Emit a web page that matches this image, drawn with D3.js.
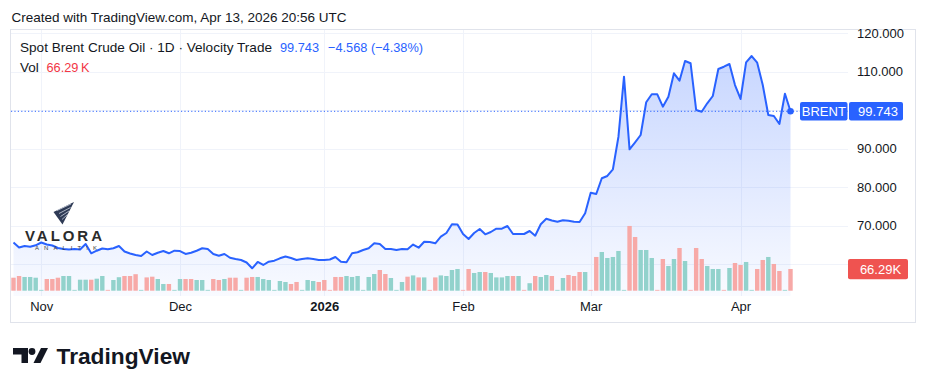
<!DOCTYPE html>
<html><head><meta charset="utf-8">
<script src="https://cdn.jsdelivr.net/npm/d3@7"></script>
<style>
html,body{margin:0;padding:0;background:#fff;}
svg{display:block;font-family:"Liberation Sans",Arial,sans-serif;}
</style></head><body>
<svg id="c" width="926" height="391"></svg>
<script>
// ---- data ----
const startDate = "2025-10-27", endDate = "2026-04-13";
const missingDays = ["2025-12-25","2026-01-01","2026-02-08","2026-04-03"];
const closes = [
65.66,64.36,64.75,64.57,64.94,65.66,65.14,64.88,64.23,63.95,
63.85,63.95,63.85,65.27,62.86,63.53,64.10,63.90,64.16,64.75,
63.32,62.81,62.42,62.16,63.32,62.42,63.01,63.45,62.86,63.53,
63.45,62.68,63.01,63.53,64.16,63.97,62.68,62.23,62.68,61.71,
61.38,61.12,60.47,58.96,60.60,59.82,60.68,60.94,61.56,62.03,
61.64,61.12,61.38,61.56,61.38,61.12,61.12,61.25,61.90,60.68,
60.52,62.86,63.12,63.71,64.16,65.45,65.27,63.97,63.97,63.71,
63.97,63.90,65.14,64.31,65.87,65.79,65.45,67.17,68.13,70.39,
70.34,67.87,66.57,68.13,69.17,67.79,68.39,69.25,69.25,69.95,
67.87,67.87,67.87,68.65,67.43,70.39,71.84,71.38,71.06,71.43,
71.32,71.06,70.99,73.25,78.60,78.26,82.34,82.94,84.68,93.14,
108.73,89.87,91.69,93.58,102.08,104.16,104.16,100.94,103.53,109.61,
107.69,112.81,112.21,100.08,99.64,101.82,103.71,110.73,111.32,112.03,
106.57,102.94,112.47,114.10,112.36,106.57,98.78,98.52,96.44,104.31,
99.743];
const volumesK = [
39.7,44.9,41.9,41.9,39.7,2.5, 35.7,35.7,39.7,44.9,44.9,2.5,
33.6,33.6,33.6,36.7,44.9,2.5, 32.7,41.2,44.9,44.9,50.4,2.5,
40.6,42.8,35.7,20.5,20.5,2.5, 35.7,35.7,35.7,32.7,32.7,2.5,
35.7,32.7,35.7,39.7,39.7,2.5, 39.7,41.9,41.9,35.7,32.7,2.5,
29.6,26.6,20.5,26.6,2.5, 32.7,29.6,26.6,32.7,2.5,
41.9,41.9,44.9,41.9,44.9,2.5, 41.9,51.0,63.2,51.0,38.8,2.5,
26.6,42.8,46.7,40.6,40.6,2.5, 40.6,46.7,44.9,63.2,66.3,2.5,
66.3,54.1,57.1,57.1,54.1, 40.6,40.6,44.9,44.9,44.9, 2.5,
22.9,44.9,41.9,48.0,44.9, 2.5, 38.8,48.0,44.9,57.1,57.1, 2.5,
103.0,118.2,99.9,103.0,121.3, 2.5, 197.7,164.0,124.3,124.3,99.9, 2.5,
96.8,75.5,96.8,130.4,90.7, 2.5, 130.4,96.8,75.5,66.3,66.3, 2.5,
69.3,84.6,78.5,87.7, 2.5, 66.3,93.8,103.0,81.6,60.2, 2.5, 66.29];
const volUp = [
0,0,1,1,1,1, 0,0,0,1,1,1, 1,1,0,1,1,0, 1,1,0,0,0,1,
0,0,1,1,0,1, 1,0,0,1,1,1, 0,0,1,0,0,1, 0,0,1,1,1,1,
1,1,0,0,1, 1,1,0,0,0, 0,0,1,1,1,1, 1,1,0,0,1,1,
1,0,1,0,1,0, 0,1,1,1,1,0, 0,1,1,0,1, 1,1,1,0,1, 0,
1,0,1,1,0, 1, 1,0,0,0,1, 0, 0,1,1,1,1, 1, 0,0,1,1,1, 0,
0,1,1,0,1, 0, 0,0,1,1,1, 0, 1,0,0,1, 1, 0,0,1,0,0, 1, 0];
const tickDates = ["2025-11-02","2025-12-01","2026-01-02","2026-02-01","2026-03-01","2026-04-01"];
const tickLabels = ["Nov","Dec","2026","Feb","Mar","Apr"];
const gridPrices = [60,70,80,90,100,110,120];
const priceTickLabels = [70,80,90,110,120];   // 60 and 100 sit behind the label boxes
const symbolName = "BRENT";
const lastPrice = 99.743, change = -4.568, changePct = -4.38, lastVolLabel = "66.29K";

// ---- build trading-day categories (Sun–Fri sessions) ----
const dates = [];
for (let d = new Date(startDate+"T00:00:00Z"); d <= new Date(endDate+"T00:00:00Z"); d.setUTCDate(d.getUTCDate()+1)) {
  const s = d.toISOString().slice(0,10);
  if (d.getUTCDay() !== 6 && !missingDays.includes(s)) dates.push(s);
}
const data = dates.map((d,i)=>({date:d, close:closes[i], vol:volumesK[i], up:volUp[i]}));

// ---- layout ----
const svg = d3.select("#c");
const plotL = 10, plotR = 848, plotT = 29, plotB = 296;
const x = d3.scaleLinear().domain([0, data.length-1]).range([13.5, 790.5]);
const y = d3.scaleLinear().domain([60,120]).range([264.3, 33.3]);
const yv = d3.scaleLinear().domain([0,200]).range([290.7, 225.2]);

svg.append("rect").attr("width",926).attr("height",391).attr("fill","#fff");

// header
svg.append("text").attr("x",11.5).attr("y",21.5).attr("font-size",13).attr("fill","#131722")
  .attr("textLength",335).attr("lengthAdjust","spacingAndGlyphs")
  .text("Created with TradingView.com, Apr 13, 2026 20:56 UTC");

// frame
svg.append("rect").attr("x",10.5).attr("y",29.5).attr("width",905).attr("height",293)
  .attr("fill","none").attr("stroke","#e0e3eb");

// gridlines
const tickIdx = tickDates.map(t => dates.indexOf(t));
svg.append("g").selectAll("line").data(tickIdx).join("line")
  .attr("x1",d=>Math.round(x(d))+0.5).attr("x2",d=>Math.round(x(d))+0.5)
  .attr("y1",plotT+1).attr("y2",plotB).attr("stroke","#f0f3fa");
svg.append("g").selectAll("line").data(gridPrices).join("line")
  .attr("x1",plotL+1).attr("x2",plotR).attr("y1",d=>Math.round(y(d))+0.5).attr("y2",d=>Math.round(y(d))+0.5)
  .attr("stroke","#f0f3fa");

// area gradient
const defs = svg.append("defs");
const g = defs.append("linearGradient").attr("id","ag").attr("gradientUnits","userSpaceOnUse")
  .attr("x1",0).attr("x2",0).attr("y1",y(d3.max(closes))).attr("y2",plotB);
g.append("stop").attr("offset",0).attr("stop-color","#2962ff").attr("stop-opacity",0.26);
g.append("stop").attr("offset",1).attr("stop-color","#2962ff").attr("stop-opacity",0.03);

svg.append("path").datum(data)
  .attr("d", d3.area().x((d,i)=>x(i)).y0(plotB).y1(d=>y(d.close)))
  .attr("fill","url(#ag)");

// volume
const bw = 4.4;
svg.append("g").selectAll("rect").data(data).join("rect")
  .attr("x",(d,i)=>x(i)-bw/2).attr("width",bw)
  .attr("y",d=>yv(d.vol)).attr("height",d=>Math.max(0.8, yv(0)-yv(d.vol)))
  .attr("fill",d=>d.up ? "#92d2cc" : "#f7a9a7");

// price line (dotted)
svg.append("line").attr("x1",plotL+1).attr("x2",plotR).attr("y1",y(lastPrice)).attr("y2",y(lastPrice))
  .attr("stroke","#2962ff").attr("stroke-width",1).attr("stroke-dasharray","1.2,2.2");

// line
svg.append("path").datum(data)
  .attr("d", d3.line().x((d,i)=>x(i)).y(d=>y(d.close)))
  .attr("fill","none").attr("stroke","#2962ff").attr("stroke-width",2).attr("stroke-linejoin","round");
svg.append("circle").attr("cx",x(data.length-1)).attr("cy",y(lastPrice)).attr("r",3.3).attr("fill","#2962ff");

// watermark (Valora Analitik)
const wm = svg.append("g");
wm.append("path").attr("d","M53.5,212 L74,202 L62.5,224.5 Z").attr("fill","#2e3a55");
[[57,210.5,71,204],[59,213.5,70.5,207.5],[60.5,216.5,69,211],[62,219.5,67.5,214.5]].forEach(l=>{
  wm.append("line").attr("x1",l[0]).attr("y1",l[1]).attr("x2",l[2]).attr("y2",l[3])
    .attr("stroke","#cdd3e0").attr("stroke-width",0.8);
});
wm.append("text").attr("x",25).attr("y",240.8).attr("font-size",15).attr("font-weight",700)
  .attr("fill","#2b2b2b").attr("textLength",77).attr("lengthAdjust","spacing").text("VALORA");
wm.append("text").attr("x",35).attr("y",250.2).attr("font-size",6)
  .attr("fill","#3a3a3a").attr("textLength",62).attr("lengthAdjust","spacing").text("ANALITIK");

// time axis
const xAxis = d3.axisBottom(x).tickValues(tickIdx).tickFormat((d,i)=>tickLabels[i]).tickSize(0).tickPadding(0);
const xa = svg.append("g").attr("transform","translate(0,302)").call(xAxis);
xa.select(".domain").remove();
xa.selectAll("text").attr("font-size",13).attr("fill","#131722").attr("dy","0.72em")
  .attr("font-family","Liberation Sans, Arial, sans-serif")
  .attr("font-weight",(d,i)=>tickLabels[i]==="2026"?700:400);

// price axis
const yAxis = d3.axisRight(y).tickValues(priceTickLabels).tickFormat(d3.format(".3f")).tickSize(0).tickPadding(0);
const ya = svg.append("g").attr("transform","translate(857,0)").call(yAxis);
ya.select(".domain").remove();
ya.selectAll("text").attr("font-size",13).attr("fill","#131722")
  .attr("font-family","Liberation Sans, Arial, sans-serif");

// last price labels
const ly = y(lastPrice);
svg.append("rect").attr("x",800).attr("y",ly-9.2).attr("width",47.5).attr("height",18.4).attr("rx",2).attr("fill","#2962ff");
svg.append("rect").attr("x",849).attr("y",ly-9.2).attr("width",54).attr("height",18.4).attr("rx",2).attr("fill","#2962ff");
svg.append("text").attr("x",823.8).attr("y",ly+4.6).attr("text-anchor","middle").attr("font-size",13).attr("fill","#fff").text(symbolName);
svg.append("text").attr("x",878).attr("y",ly+4.6).attr("text-anchor","middle").attr("font-size",13).attr("fill","#fff").text(d3.format(".3f")(lastPrice));
const vy = yv(volumesK[volumesK.length-1]);
svg.append("rect").attr("x",848).attr("y",vy-10).attr("width",60).attr("height",20.3).attr("rx",2).attr("fill","#ef5350");
svg.append("text").attr("x",880.5).attr("y",vy+4.8).attr("text-anchor","middle").attr("font-size",13).attr("fill","#fff").text(lastVolLabel);

// legend
const fmtSigned = v => (v<0?"\u2212":"+") + d3.format(".3f")(Math.abs(v));
svg.append("text").attr("x",20).attr("y",52).attr("font-size",13.5).attr("fill","#131722")
  .attr("textLength",252).attr("lengthAdjust","spacingAndGlyphs")
  .text("Spot Brent Crude Oil \u00b7 1D \u00b7 Velocity Trade");
svg.append("text").attr("x",280).attr("y",52).attr("font-size",13.5).attr("fill","#2962ff")
  .attr("textLength",39).attr("lengthAdjust","spacingAndGlyphs").text(d3.format(".3f")(lastPrice));
svg.append("text").attr("x",328).attr("y",52).attr("font-size",13.5).attr("fill","#2962ff")
  .attr("textLength",95).attr("lengthAdjust","spacingAndGlyphs")
  .text(fmtSigned(change)+" ("+(changePct<0?"\u2212":"+")+Math.abs(changePct).toFixed(2)+"%)");
svg.append("text").attr("x",20).attr("y",71.5).attr("font-size",13.5).attr("fill","#131722").text("Vol");
svg.append("text").attr("x",46.5).attr("y",71.5).attr("font-size",13.5).attr("fill","#f23645")
  .attr("textLength",43).attr("lengthAdjust","spacingAndGlyphs").text("66.29\u2009K");

// TradingView logo
const lg = svg.append("g").attr("fill","#131722");
lg.append("path").attr("d","M13,348 H28 V363 H21.5 V354.5 H13 Z");
lg.append("circle").attr("cx",32).attr("cy",351.5).attr("r",3.4);
lg.append("path").attr("d","M41,348 H48 L40.5,363 H33.5 Z");
lg.append("text").attr("x",56.5).attr("y",363.5).attr("font-size",22).attr("font-weight",700)
  .attr("textLength",133.5).attr("lengthAdjust","spacingAndGlyphs").text("TradingView");
</script>
</body></html>
